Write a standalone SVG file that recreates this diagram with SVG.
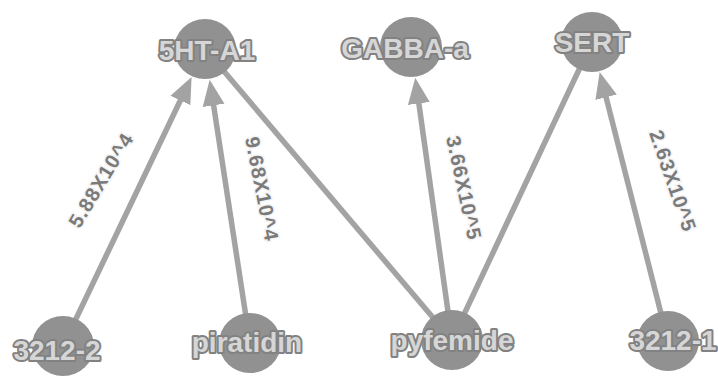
<svg xmlns="http://www.w3.org/2000/svg" width="718" height="378" viewBox="0 0 718 378">
<style>
.edge{stroke:#a3a3a3;stroke-width:5.5;fill:none}
.node ellipse{fill:#919191}
.nl{font-family:"Liberation Sans",Arial,sans-serif;font-weight:bold;font-size:28px;fill:#d6d6d6;stroke:#828282;stroke-width:4;stroke-linejoin:round;paint-order:stroke;text-anchor:middle}
.el{font-family:"Liberation Sans",Arial,sans-serif;font-weight:bold;font-size:20px;letter-spacing:1px;fill:#7a7a7a;stroke:#f4f4f4;stroke-width:3;paint-order:stroke;text-anchor:middle}
</style>
<defs>
<marker id="arr" markerUnits="userSpaceOnUse" markerWidth="30" markerHeight="24" refX="4" refY="12" orient="auto">
<path d="M0,1 L26,12 L0,23 Z" fill="#a3a3a3"/>
</marker>
</defs>
<rect width="718" height="378" fill="#ffffff"/>
<g id="edges">
<line class="edge" x1="63" y1="346" x2="182.1" y2="96.8" marker-end="url(#arr)"/>
<line class="edge" x1="250" y1="343" x2="213" y2="101.4" marker-end="url(#arr)"/>
<line class="edge" x1="452" y1="340" x2="205" y2="49"/>
<line class="edge" x1="452" y1="340" x2="418.3" y2="99.5" marker-end="url(#arr)"/>
<line class="edge" x1="452" y1="340" x2="592" y2="42"/>
<line class="edge" x1="668" y1="341" x2="605.1" y2="93.4" marker-end="url(#arr)"/>
<text class="el" transform="translate(101,180) rotate(-59)" dy="7">5.88X10^4</text>
<text class="el" transform="translate(262,189) rotate(79)" dy="7">9.68X10^4</text>
<text class="el" transform="translate(464,188) rotate(78)" dy="7">3.66X10^5</text>
<text class="el" transform="translate(673,181) rotate(71)" dy="7">2.63X10^5</text>
</g>
<g id="n-5HT-A1" class="node"><ellipse cx="205" cy="49" rx="31" ry="30"/><text class="nl" x="207" y="60">5HT-A1</text></g>
<g id="n-GABBA-a" class="node"><ellipse cx="411" cy="47" rx="31" ry="30"/><text class="nl" x="405" y="58">GABBA-a</text></g>
<g id="n-SERT" class="node"><ellipse cx="592" cy="42" rx="31" ry="30"/><text class="nl" x="592" y="52">SERT</text></g>
<g id="n-3212-2" class="node"><ellipse cx="63" cy="346" rx="31" ry="30"/><text class="nl" x="57" y="360">3212-2</text></g>
<g id="n-piratidin" class="node"><ellipse cx="250" cy="343" rx="31" ry="30"/><text class="nl" x="247" y="352">piratidin</text></g>
<g id="n-pyfemide" class="node"><ellipse cx="452" cy="340" rx="31" ry="30"/><text class="nl" x="452" y="350">pyfemide</text></g>
<g id="n-3212-1" class="node"><ellipse cx="668" cy="341" rx="31" ry="30"/><text class="nl" x="673" y="350">3212-1</text></g>
</svg>
